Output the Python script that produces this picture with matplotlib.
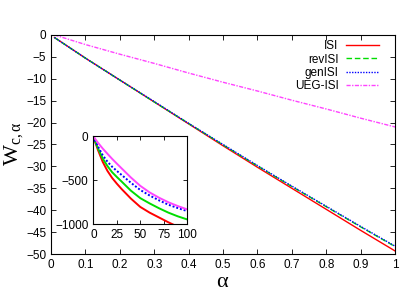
import numpy as np
import matplotlib; matplotlib.use("Agg")
import matplotlib.pyplot as plt

plt.rcParams["font.family"] = ["Liberation Sans", "DejaVu Sans"]
plt.rcParams["mathtext.fontset"] = "custom"
plt.rcParams["mathtext.rm"] = "Liberation Serif"
plt.rcParams["mathtext.it"] = "Liberation Serif:italic"

# main panel: W_c,alpha vs alpha
alpha = [0.01, 0.1, 0.2, 0.3, 0.4, 0.5, 0.6, 0.7, 0.8, 0.9, 1.0]
isi = [-0.6, -5.3, -10.3, -15.3, -20.3, -25.3, -30.2, -35.0, -39.8, -44.6, -49.3]
rev_isi = [-0.6, -5.3, -10.3, -15.3, -20.2, -25.1, -29.9, -34.6, -39.2, -43.8, -48.3]
gen_isi = [-0.6, -5.3, -10.3, -15.2, -20.2, -25.0, -29.8, -34.5, -39.1, -43.7, -48.2]
ueg_isi = [0.0, -2.2, -4.4, -6.5, -8.7, -10.8, -12.8, -14.9, -16.9, -19.0, -21.0]

# inset: large alpha
alpha_in = [0, 2, 5, 10, 15, 20, 25, 30, 40, 50, 60, 70, 80, 90, 100]
isi_in = [0, -70, -160, -293, -395, -475, -540, -600, -710, -805, -870, -925, -980, -1030, -1075]
rev_in = [0, -62, -140, -255, -340, -410, -464, -515, -620, -705, -765, -820, -870, -912, -947]
gen_in = [0, -55, -120, -217, -290, -348, -395, -440, -530, -612, -675, -730, -780, -818, -852]
ueg_in = [0, -32, -76, -141, -200, -258, -312, -365, -470, -565, -640, -700, -752, -795, -833]

styles = [("ISI", "#ff0000", "-"),
          ("revISI", "#00dd00", (0, (4, 2))),
          ("genISI", "#0000ff", (0, (1, 1))),
          ("UEG-ISI", "#ff44ff", (0, (3, 1, 1, 1)))]
inset_ls = ["-", "-", (0, (1, 1)), "-"]

fig = plt.figure(figsize=(4.15, 2.91), dpi=100)
ax = fig.add_axes([0.123, 0.127, 0.829, 0.753])
for (lab, c, ls), y in zip(styles, [isi, rev_isi, gen_isi, ueg_isi]):
    ax.plot(alpha, y, color=c, ls=ls, lw=1.0, label=lab)
ax.set_xlim(0, 1); ax.set_ylim(-50, 0)
ax.set_xticks(np.arange(0, 1.01, 0.1))
ax.set_xticklabels(["0", "0.1", "0.2", "0.3", "0.4", "0.5", "0.6", "0.7", "0.8", "0.9", "1"])
ax.set_yticks(np.arange(-50, 1, 5))
ax.tick_params(direction="in", top=True, right=True, labelsize=8.5, length=3.5, width=0.6)
for s in ax.spines.values():
    s.set_linewidth(0.8)
ax.set_xlabel(r"$\mathrm{α}$", fontsize=16, labelpad=0)
ax.set_ylabel(r"$\mathrm{W}_{\mathrm{c,α}}$", fontsize=16, labelpad=1)
ax.legend(loc="upper right", bbox_to_anchor=(0.952, 0.975), frameon=False, markerfirst=False,
          fontsize=8.5, borderpad=0, borderaxespad=0, labelspacing=0.1,
          handlelength=2.8, handletextpad=0.6)

ins = fig.add_axes([0.225, 0.230, 0.226, 0.302])
for (lab, c, ls), y, ls2 in zip(styles, [isi_in, rev_in, gen_in, ueg_in], inset_ls):
    ins.plot(alpha_in, y, color=c, ls=ls2, lw=1.4)
ins.set_xlim(0, 100); ins.set_ylim(-1000, 0)
ins.set_xticks([0, 25, 50, 75, 100]); ins.set_yticks([-1000, -500, 0])
ins.tick_params(direction="in", top=True, right=True, labelsize=8.5, length=3, width=0.6)
for s in ins.spines.values():
    s.set_linewidth(0.8)

fig.savefig("out.png", dpi=100)
